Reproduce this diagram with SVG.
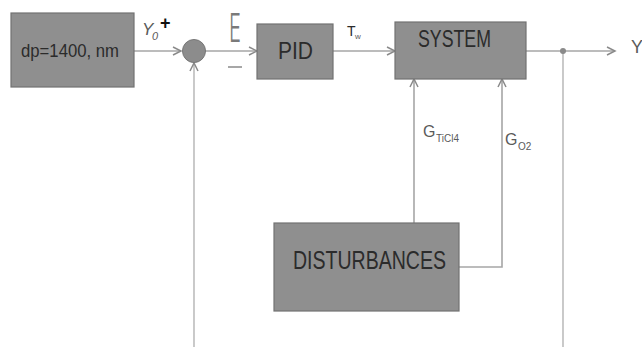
<svg xmlns="http://www.w3.org/2000/svg" width="642" height="347" viewBox="0 0 642 347">
  <style>
    .box { fill: #8f8f8f; stroke: #727272; stroke-width: 1.2; }
    .lbl { font-family: "Liberation Sans", Arial, sans-serif; fill: #2b2b2b; }
    .sig { font-family: "Liberation Sans", Arial, sans-serif; fill: #5a5a5a; }
    .wire { fill: none; stroke: #a6a6a6; stroke-width: 1.6; }
    .tail { fill: none; stroke: #c4c4c4; stroke-width: 1.8; }
  </style>
  <defs>
    <marker id="arrow" markerUnits="userSpaceOnUse" markerWidth="12" markerHeight="12" refX="9" refY="5" orient="auto">
      <path d="M1,1 L9,5 L1,9" fill="none" stroke="#8a8a8a" stroke-width="1.5"/>
    </marker>
  </defs>

  <rect width="642" height="347" fill="#ffffff"/>

  <!-- connectors -->
  <g id="connectors">
    <path class="wire" d="M134,51 H181" marker-end="url(#arrow)"/>
    <path class="wire" d="M205,51 H257" marker-end="url(#arrow)"/>
    <path class="wire" d="M333,51 H395" marker-end="url(#arrow)"/>
    <path class="wire" d="M526,51 H615" marker-end="url(#arrow)"/>
    <path class="tail" d="M563,51 V347"/>
    <circle cx="563" cy="51" r="3" fill="#8a8a8a"/>
    <path class="tail" d="M194,347 V63" marker-end="url(#arrow)"/>
    <path class="wire" d="M414,223 V79" marker-end="url(#arrow)"/>
    <path class="wire" d="M459,267 H502 V79" marker-end="url(#arrow)"/>
  </g>

  <!-- setpoint -->
  <g id="setpoint">
    <rect class="box" x="11" y="13" width="123" height="74"/>
    <text class="lbl" x="21" y="57" font-size="19" textLength="98" lengthAdjust="spacingAndGlyphs">dp=1400, nm</text>
  </g>

  <!-- summing junction -->
  <g id="sum">
    <circle cx="194" cy="51" r="11.5" fill="#8c8c8c" stroke="#777777" stroke-width="1"/>
    <text class="sig" x="142" y="35" font-size="17" font-style="italic" fill="#777777">Y</text>
    <text class="sig" x="152" y="40" font-size="11" font-style="italic" fill="#777777">0</text>
    <text x="160" y="29" font-family="Liberation Sans, Arial, sans-serif" font-size="18" font-weight="bold" fill="#111111">+</text>
    <text x="229" y="42" font-family="Inter, 'DejaVu Sans', sans-serif" font-weight="300" font-size="40" textLength="12" lengthAdjust="spacingAndGlyphs" fill="#7a7a7a">E</text>
    <path d="M228,67 H242" stroke="#8a8a8a" stroke-width="1.5"/>
  </g>

  <!-- controller -->
  <g id="pid">
    <rect class="box" x="257" y="24" width="76" height="55"/>
    <text class="lbl" x="278" y="59" font-size="23" textLength="35" lengthAdjust="spacingAndGlyphs">PID</text>
    <text class="lbl" x="347" y="36" font-size="14">T</text>
    <text class="sig" x="355" y="39" font-size="8">w</text>
  </g>

  <!-- plant -->
  <g id="system">
    <rect class="box" x="395" y="22" width="131" height="57"/>
    <text class="lbl" x="418" y="47" font-size="23" textLength="73" lengthAdjust="spacingAndGlyphs">SYSTEM</text>
  </g>

  <!-- output -->
  <g id="output">
    <text class="sig" x="631" y="53" font-size="18" fill="#6a6a6a">Y</text>
  </g>

  <!-- disturbances -->
  <g id="disturbances">
    <rect class="box" x="274" y="223" width="185" height="88"/>
    <text class="lbl" x="293" y="269" font-size="25" textLength="153" lengthAdjust="spacingAndGlyphs">DISTURBANCES</text>
    <text class="sig" x="423" y="137" font-size="16">G</text>
    <text class="sig" x="436" y="142" font-size="10" fill="#888888">TiCl4</text>
    <text class="sig" x="505" y="145" font-size="16">G</text>
    <text class="sig" x="518" y="150" font-size="10" fill="#777777">O2</text>
  </g>
</svg>
